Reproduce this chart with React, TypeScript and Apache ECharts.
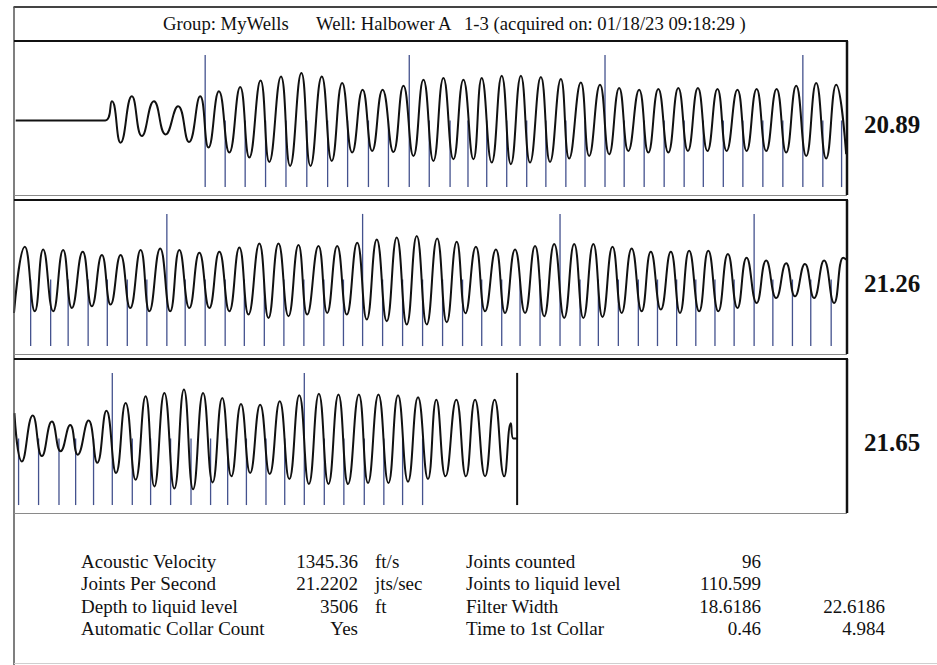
import React, { useEffect, useRef } from "react";
import * as echarts from "echarts";

const FONT = '"Liberation Serif", "Times New Roman", Times, serif';

// ---- header / labels ----
const TITLE_GROUP = "Group: MyWells";
const TITLE_WELL = "Well: Halbower A";
const TITLE_ACQ = "1-3 (acquired on: 01/18/23 09:18:29 )";
const PANEL_RATES = ["20.89", "21.26", "21.65"];
const PANEL_START = [0, 2, 4]; // seconds at left edge of each strip
const PANEL_SPAN = 2; // seconds per strip

// ---- waveform extremes: [time s, amplitude] ----
const wave1: [number, number][] = [
  [0.004, 0], [0.219, 0],
  [0.235, 19.3], [0.256, -22.3], [0.283, 24.3], [0.307, -15.7], [0.336, 19.3], [0.364, -14],
  [0.394, 14.3], [0.42, -21.7], [0.447, 24.3], [0.467, -27.3], [0.492, 29.3], [0.517, -32.3],
  [0.543, 33.7], [0.565, -37.3], [0.592, 40.3], [0.613, -41.7], [0.641, 44.3], [0.663, -45.7],
  [0.69, 47.7], [0.712, -45.7], [0.739, 44.3], [0.763, -40.7], [0.788, 37.7], [0.812, -32.3],
  [0.837, 31], [0.86, -30.7], [0.885, 31], [0.911, -31.7], [0.935, 35], [0.959, -35.7],
  [0.983, 41], [1.007, -40.7], [1.031, 42.7], [1.055, -39], [1.079, 41], [1.103, -39],
  [1.123, 42.7], [1.147, -42.3], [1.171, 45], [1.193, -44], [1.217, 45], [1.239, -42.3],
  [1.265, 43.7], [1.287, -41.7], [1.313, 41.7], [1.333, -38.3], [1.361, 38.3], [1.381, -35.7],
  [1.407, 36], [1.429, -34], [1.453, 32.7], [1.475, -30.7], [1.501, 31], [1.523, -32.3],
  [1.547, 31.7], [1.571, -32.3], [1.595, 32.7], [1.618, -30.7], [1.642, 32.7], [1.665, -30.7],
  [1.689, 31.7], [1.711, -30.7], [1.737, 31], [1.759, -30.7], [1.783, 31.7], [1.806, -30.7],
  [1.831, 31.7], [1.854, -32.3], [1.878, 35], [1.902, -35.7], [1.926, 37.7], [1.95, -38.3],
  [1.974, 36], [1.998, -34],
];

const wave2: [number, number][] = [
  [2.0, -33.7], [2.026, 33], [2.05, -32], [2.07, 30.3], [2.094, -32], [2.118, 29.7],
  [2.139, -28.7], [2.165, 28], [2.187, -27], [2.211, 24.7], [2.232, -25.3], [2.256, 24.7],
  [2.279, -28.7], [2.304, 29.7], [2.325, -32], [2.351, 31.3], [2.375, -32], [2.397, 29.7],
  [2.421, -28.7], [2.445, 27], [2.469, -28.7], [2.493, 28], [2.517, -32], [2.541, 32.3],
  [2.563, -35.3], [2.589, 36.3], [2.611, -38.7], [2.635, 36.3], [2.659, -37], [2.683, 34.7],
  [2.704, -35.3], [2.731, 33.7], [2.752, -33.7], [2.776, 33.7], [2.799, -35.3], [2.824, 37],
  [2.847, -40.3], [2.871, 40.3], [2.895, -42], [2.919, 42.3], [2.943, -45.3], [2.967, 43.7],
  [2.991, -45.3], [3.016, 41.3], [3.039, -43], [3.063, 38], [3.084, -34], [3.109, 33],
  [3.131, -32], [3.157, 30.3], [3.179, -33.7], [3.203, 30.3], [3.227, -33.7], [3.251, 33.7],
  [3.273, -37], [3.297, 35.7], [3.321, -38.7], [3.345, 35.7], [3.367, -38.7], [3.391, 35.7],
  [3.413, -37.7], [3.437, 33], [3.459, -33.7], [3.483, 31.3], [3.507, -32], [3.529, 28],
  [3.553, -30.3], [3.577, 28], [3.599, -33.7], [3.621, 29], [3.645, -32], [3.667, 29],
  [3.691, -32], [3.714, 25.7], [3.737, -28.7], [3.759, 22], [3.783, -23.7], [3.806, 19],
  [3.83, -18.7], [3.854, 16.3], [3.875, -17], [3.899, 15.7], [3.921, -18.7], [3.945, 19],
  [3.969, -23.7], [3.991, 22], [3.999, 20],
];

const wave3: [number, number][] = [
  [4.001, 25.5], [4.019, -23.1], [4.045, 23.1], [4.067, -17.7], [4.091, 17], [4.112, -12.9],
  [4.135, 13.6], [4.153, -16.3], [4.179, 18], [4.2, -24.5], [4.222, 27.9], [4.245, -34.7],
  [4.268, 35.7], [4.292, -41.5], [4.316, 42.5], [4.337, -48.3], [4.361, 45.9], [4.385, -50.3],
  [4.408, 49.3], [4.43, -51], [4.454, 45.9], [4.477, -44.2], [4.5, 40.8], [4.522, -38.1],
  [4.545, 34.7], [4.567, -34.7], [4.591, 34], [4.614, -35.7], [4.638, 37.4], [4.661, -40.8],
  [4.685, 43.5], [4.708, -45.9], [4.732, 44.9], [4.755, -45.9], [4.779, 44.2], [4.802, -45.9],
  [4.828, 44.2], [4.85, -44.9], [4.875, 44.2], [4.899, -44.9], [4.922, 43.5], [4.946, -43.5],
  [4.97, 41.5], [4.994, -40.8], [5.014, 39.1], [5.036, -38.1], [5.062, 39.1], [5.085, -38.1],
  [5.107, 39.1], [5.131, -38.1], [5.154, 39.1], [5.177, -38.1], [5.193, 15.3], [5.199, 0],
  [5.208, 0],
];

// ---- collar (joint) marker times, seconds ----
const collars1 = [
  0.459, 0.507, 0.555, 0.604, 0.653, 0.703, 0.753, 0.801, 0.851, 0.899, 0.949, 0.997, 1.047,
  1.09, 1.135, 1.183, 1.231, 1.277, 1.325, 1.371, 1.419, 1.465, 1.513, 1.561, 1.609, 1.655,
  1.703, 1.75, 1.798, 1.846, 1.894, 1.942, 1.987,
];
const collars2 = [
  2.04, 2.088, 2.13, 2.178, 2.224, 2.272, 2.319, 2.367, 2.411, 2.459, 2.507, 2.553, 2.601,
  2.648, 2.696, 2.744, 2.791, 2.837, 2.885, 2.933, 2.981, 3.029, 3.077, 3.123, 3.171, 3.215,
  3.263, 3.311, 3.359, 3.403, 3.451, 3.499, 3.545, 3.591, 3.637, 3.683, 3.729, 3.777, 3.822,
  3.869, 3.913, 3.962,
];
const collars3 = [
  4.011, 4.059, 4.108, 4.148, 4.191, 4.236, 4.284, 4.328, 4.376, 4.425, 4.472, 4.513, 4.558,
  4.605, 4.65, 4.697, 4.745, 4.792, 4.841, 4.888, 4.933, 4.981,
];
// every tenth collar is drawn full height
const tallCollars = [0.459, 0.949, 1.419, 1.894, 2.367, 2.837, 3.311, 3.777, 4.236, 4.697];
const liquidLevelTime = 5.208;

// marker extents in amplitude units
const MARK_BOTTOM = -67;
const MARK_SHORT_TOP = 0;
const MARK_TALL_TOP = 66;

// ---- bottom table ----
const tableLabels = ["Acoustic Velocity", "Joints Per Second", "Depth to liquid level", "Automatic Collar Count"];
const tableValues = ["1345.36", "21.2202", "3506", "Yes"];
const tableUnits = ["ft/s", "jts/sec", "ft", ""];
const tableLabels2 = ["Joints counted", "Joints to liquid level", "Filter Width", "Time to 1st Collar"];
const tableValues2 = ["96", "110.599", "18.6186", "0.46"];
const tableValues3 = ["", "", "22.6186", "4.984"];

const WAVES = [wave1, wave2, wave3];
const COLLARS = [collars1, collars2, collars3];

export default function App() {
  const ref = useRef<HTMLDivElement>(null);

  useEffect(() => {
    if (!ref.current) return;
    const chart = echarts.init(ref.current, undefined, { renderer: "svg" });

    const LEFT = 14;
    const WIDTH = 833;
    const TOPS = [41, 200, 359];
    const HEIGHT = 154;

    const markerSeries = (idx: number, data: number[][], color: string, width: number) => ({
      type: "custom",
      xAxisIndex: idx,
      yAxisIndex: idx,
      z: 2,
      silent: true,
      data,
      encode: { x: 0, y: [1, 2] },
      renderItem: (_p: any, api: any) => {
        const a = api.coord([api.value(0), api.value(1)]);
        const b = api.coord([api.value(0), api.value(2)]);
        return {
          type: "line",
          shape: { x1: a[0], y1: a[1], x2: b[0], y2: b[1] },
          style: { stroke: color, lineWidth: width },
        };
      },
    });

    const series: any[] = [];
    for (let i = 0; i < 3; i++) {
      const data = COLLARS[i].map((t) => [
        t,
        MARK_BOTTOM,
        tallCollars.includes(t) ? MARK_TALL_TOP : MARK_SHORT_TOP,
      ]);
      series.push(markerSeries(i, data, "#44528e", 1.3));
      series.push({
        type: "line",
        xAxisIndex: i,
        yAxisIndex: i,
        z: 3,
        data: WAVES[i],
        smooth: 0.5,
        showSymbol: false,
        silent: true,
        lineStyle: { color: "#111", width: 2 },
      });
    }
    series.push(markerSeries(2, [[liquidLevelTime, MARK_BOTTOM, MARK_TALL_TOP]], "#111", 2));

    const txt = (text: string, x: number, y: number, align: string, size: number, bold = false) => ({
      type: "text",
      x,
      y,
      z: 20,
      silent: true,
      style: {
        text,
        fill: "#111",
        font: `${bold ? "bold " : ""}${size}px ${FONT}`,
        align,
        verticalAlign: "middle",
        textAlign: align,
        textVerticalAlign: "middle",
      },
    });
    const ln = (x1: number, y1: number, x2: number, y2: number, stroke: string, w: number) => ({
      type: "line",
      z: 15,
      silent: true,
      shape: { x1, y1, x2, y2 },
      style: { stroke, lineWidth: w },
    });

    const graphics: any[] = [];
    // outer frame
    graphics.push(ln(13.5, 7, 937, 7, "#444", 2));
    graphics.push(ln(14, 7, 14, 665, "#555", 1.5));
    graphics.push(ln(14, 663.5, 937, 663.5, "#cfcfcf", 1));
    // panel frames
    TOPS.forEach((top, i) => {
      graphics.push(ln(LEFT, top, LEFT + WIDTH + 1, top, "#111", 2.2));
      graphics.push(ln(LEFT + WIDTH, top, LEFT + WIDTH, top + HEIGHT, "#111", 2.5));
      graphics.push(ln(LEFT, top + HEIGHT + 0.5, LEFT + WIDTH, top + HEIGHT + 0.5, "#8a8a8a", 1));
      graphics.push(txt(PANEL_RATES[i], 864, top + 83, "left", 25, true));
    });
    // title
    graphics.push(txt(TITLE_GROUP, 163, 23, "left", 18.7));
    graphics.push(txt(TITLE_WELL, 316, 23, "left", 18.7));
    graphics.push(txt(TITLE_ACQ, 464, 23, "left", 18.7));
    // table
    const rowsY = [561, 583, 606, 628];
    rowsY.forEach((y, r) => {
      graphics.push(txt(tableLabels[r], 81, y, "left", 19));
      graphics.push(txt(tableValues[r], 358, y, "right", 19));
      if (tableUnits[r]) graphics.push(txt(tableUnits[r], 375, y, "left", 19));
      graphics.push(txt(tableLabels2[r], 466, y, "left", 19));
      graphics.push(txt(tableValues2[r], 761, y, "right", 19));
      if (tableValues3[r]) graphics.push(txt(tableValues3[r], 885, y, "right", 19));
    });

    chart.setOption({
      animation: false,
      backgroundColor: "#ffffff",
      grid: TOPS.map((top) => ({ left: LEFT, top, width: WIDTH, height: HEIGHT, show: false })),
      xAxis: PANEL_START.map((s, i) => ({
        type: "value",
        gridIndex: i,
        min: s,
        max: s + PANEL_SPAN,
        show: false,
      })),
      yAxis: [0, 1, 2].map((i) => ({
        type: "value",
        gridIndex: i,
        min: -75,
        max: 80,
        show: false,
      })),
      series,
      graphic: graphics,
    });

    return () => chart.dispose();
  }, []);

  return (
    <div
      ref={ref}
      style={{ position: "absolute", left: 0, top: 0, width: 937, height: 665, background: "#fff" }}
    />
  );
}
